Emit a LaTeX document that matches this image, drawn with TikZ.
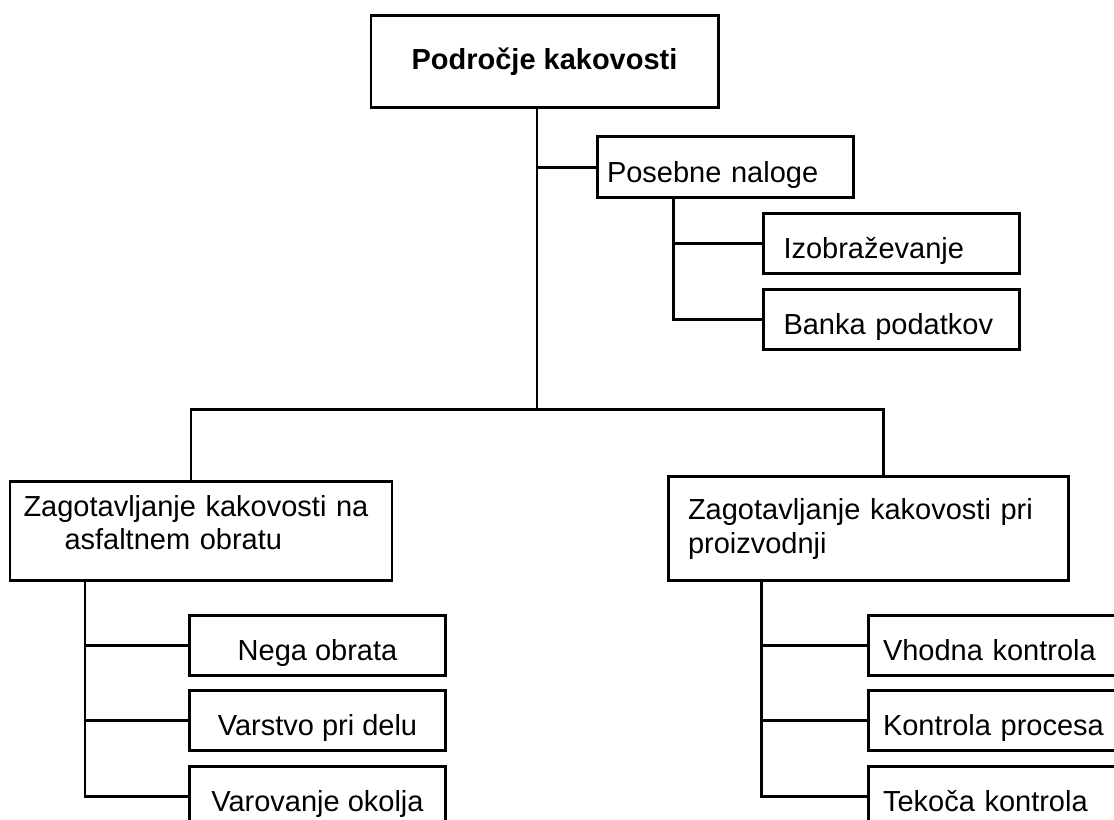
\documentclass[tikz,border=0pt]{standalone}
\usepackage{fontspec}
\setmainfont{Liberation Sans}
\usetikzlibrary{positioning}

\begin{document}
\begin{tikzpicture}[
    box/.style={rectangle, draw, line width=1.7pt, inner sep=0pt, minimum height=1.2cm,
                align=center, font=\fontsize{16.5}{19}\selectfont,
                execute at begin node={\hyphenpenalty=10000}},
    cell/.style={box, minimum width=5.12cm, text height=20.5pt, text depth=3.5pt},
    leftcell/.style={cell, align=left, text width=#1},
    wide/.style={box, align=left, minimum height=1.98cm},
    line/.style={line width=1.7pt}
]
    \useasboundingbox (0,0) rectangle (22.28,16.4);
    \clip (0,0) rectangle (22.28,16.4);

    % Top level
    \node[box, minimum width=6.94cm, minimum height=1.84cm,
          font=\fontsize{16.5}{19}\selectfont\bfseries] (kakovost) at (10.89,15.16) {Področje kakovosti};

    % Special tasks
    \node[leftcell=4.72cm, minimum height=1.22cm] (posebne) at (14.5,13.05) {Posebne naloge};
    \node[leftcell=4.3cm] (izob)  at (17.82,11.52) {Izobraževanje};
    \node[leftcell=4.3cm] (banka) at (17.82,10.0)  {Banka podatkov};

    % Second level
    \node[wide, minimum width=7.64cm, text width=7.1cm] (asfalt) at (4.02,5.77)
        {Zagotavljanje kakovosti na\\\hspace*{0.82cm}asfaltnem obratu\rule[-0.37cm]{0pt}{0.37cm}};
    \node[wide, minimum width=8cm, minimum height=2.08cm, text width=7.2cm] (proizv) at (17.36,5.82)
        {Zagotavljanje kakovosti pri\\proizvodnji};

    % Asphalt plant
    \node[cell] (nega) at (6.35,3.49) {Nega obrata};
    \node[cell, below=0.25cm of nega]    (varstvo)   {Varstvo pri delu};
    \node[cell, below=0.25cm of varstvo] (varovanje) {Varovanje okolja};

    % Production
    \node[leftcell=4.54cm] (vhodna) at (19.93,3.49) {Vhodna kontrola};
    \node[leftcell=4.54cm, below=0.25cm of vhodna] (proces) {Kontrola procesa};
    \node[leftcell=4.54cm, below=0.25cm of proces] (tekoca) {Tekoča kontrola};

    % Connectors
    \coordinate (trunk)   at (10.74,8.2);
    \coordinate (lsplit)  at (3.82,8.2);
    \coordinate (rsplit)  at (17.66,8.2);
    \coordinate (pbranch) at (13.46,10.0);
    \coordinate (lbranch) at (1.7,0.46);
    \coordinate (rbranch) at (15.22,0.46);

    \draw[line] (trunk |- kakovost.south) -- (trunk);
    \draw[line] (trunk |- posebne.west) -- (posebne.west);
    \draw[line] (pbranch |- posebne.south) -- (pbranch |- banka.west) -- (banka.west);
    \draw[line] (pbranch |- izob.west) -- (izob.west);

    \draw[line] (lsplit |- asfalt.north) -- (lsplit) -- (rsplit) -- (rsplit |- proizv.north);

    \draw[line] (lbranch |- asfalt.south) -- (lbranch |- varovanje.west) -- (varovanje.west);
    \foreach \n in {nega, varstvo}
        \draw[line] (lbranch |- \n.west) -- (\n.west);

    \draw[line] (rbranch |- proizv.south) -- (rbranch |- tekoca.west) -- (tekoca.west);
    \foreach \n in {vhodna, proces}
        \draw[line] (rbranch |- \n.west) -- (\n.west);

\end{tikzpicture}
\end{document}
